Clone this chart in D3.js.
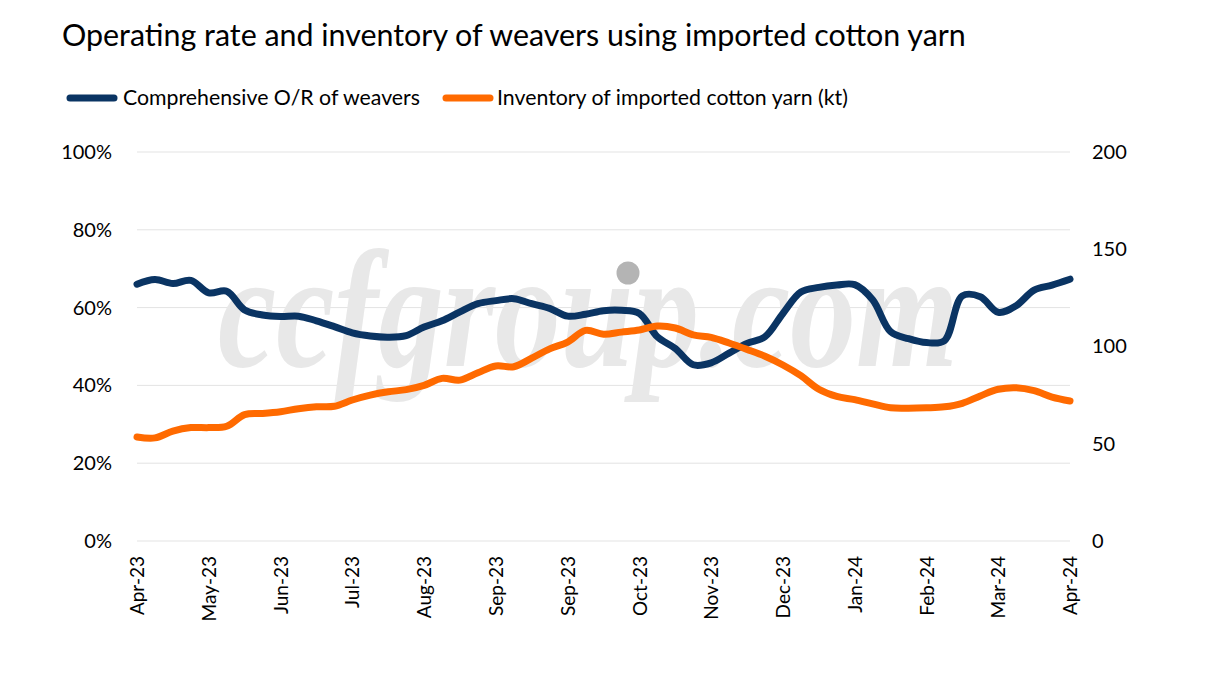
<!DOCTYPE html>
<html><head><meta charset="utf-8">
<script src="https://cdn.jsdelivr.net/npm/d3@7"></script>
<style>html,body{margin:0;padding:0;background:#fff;}svg{display:block;}</style>
</head><body>
<svg id="chart" width="1217" height="686"></svg>
<script>
const title = "Operating rate and inventory of weavers using imported cotton yarn";
const seriesNames = ["Comprehensive O/R of weavers", "Inventory of imported cotton yarn (kt)"];
// x tick labels, one every 4 weekly points
const tickLabels = ["Apr-23","May-23","Jun-23","Jul-23","Aug-23","Sep-23","Sep-23","Oct-23","Nov-23","Dec-23","Jan-24","Feb-24","Mar-24","Apr-24"];
// weekly operating rate (%)
const operatingRate = [66.0,67.2,66.2,67.0,63.8,64.2,59.4,58.1,57.7,57.8,56.6,55.1,53.5,52.7,
  52.4,52.8,55.0,56.6,58.9,61.0,61.8,62.3,61.0,59.8,57.8,58.3,59.2,59.3,
  58.5,52.5,49.5,45.3,45.8,48.3,50.8,52.5,58.5,64.0,65.2,65.8,
  65.9,62.0,53.8,52.0,51.0,51.5,63.0,62.8,58.8,60.5,64.5,65.8,67.3];
// weekly inventory (kt)
const inventory = [53.5,53.0,56.5,58.3,58.3,59.0,65.0,65.6,66.5,68.0,69.0,69.3,72.5,75.0,
  76.7,77.8,80.0,83.6,82.7,86.5,90.0,89.6,94.0,98.8,102.3,108.3,106.3,107.4,
  108.5,110.5,109.5,106.0,104.7,101.8,98.5,95.0,90.5,85.0,78.0,74.3,
  72.7,70.5,68.5,68.3,68.5,69.0,70.8,74.6,78.0,78.8,77.3,74.0,72.0];
const leftTicks = [0,20,40,60,80,100];
const rightTicks = [0,50,100,150,200];

const svg = d3.select("#chart");
const font = "Lato, 'Open Sans', sans-serif";
const x0 = 137, x1 = 1070, yTop = 152, yBot = 541;
const x = d3.scaleLinear().domain([0, operatingRate.length - 1]).range([x0, x1]);
const yL = d3.scaleLinear().domain([0, 100]).range([yBot, yTop]);
const yR = d3.scaleLinear().domain([0, 200]).range([yBot, yTop]);
const blue = "#0a3463", orange = "#ff6a00";

// gridlines
svg.append("g").selectAll("line").data(leftTicks).join("line")
  .attr("x1", x0).attr("x2", x1).attr("y1", d => yL(d)).attr("y2", d => yL(d))
  .attr("stroke", "#e3e3e3").attr("stroke-width", 1);

// watermark (horizontally condensed via transform)
const wmG = svg.append("g");
const wm = wmG.append("text").attr("x", 0).attr("y", 0)
  .attr("font-family", "'Liberation Serif', serif").attr("font-style", "italic").attr("font-weight", "bold")
  .attr("font-size", 168).attr("fill", "#e8e8e8")
  .text("ccfgroup.com");
const wmW = wm.node().getComputedTextLength();
wmG.attr("transform", `translate(218,366) scale(${740 / wmW},1)`);
svg.append("circle").attr("cx", 628).attr("cy", 273).attr("r", 11.5).attr("fill", "#b4b4b4");

// title
svg.append("text").attr("x", 62).attr("y", 46).attr("font-family", font)
  .attr("font-size", 30.4).attr("fill", "#000").text(title);

// legend
const leg = [{c: blue, x: 67, tx: 123}, {c: orange, x: 443, tx: 497}];
leg.forEach((l, i) => {
  svg.append("line").attr("x1", l.x + 3).attr("x2", l.x + 47).attr("y1", 98).attr("y2", 98)
    .attr("stroke", l.c).attr("stroke-width", 7).attr("stroke-linecap", "round");
  svg.append("text").attr("x", l.tx).attr("y", 105).attr("font-family", font)
    .attr("font-size", 21.3).attr("fill", "#000").text(seriesNames[i]);
});

// left axis
const gl = svg.append("g").attr("transform", `translate(${x0},0)`)
  .call(d3.axisLeft(yL).tickValues(leftTicks).tickFormat(d => d + "%").tickSize(0).tickPadding(25));
gl.select(".domain").remove();
gl.selectAll("text").attr("font-family", font).attr("font-size", 20).attr("fill", "#000");

// right axis
const gr = svg.append("g").attr("transform", `translate(${x1},0)`)
  .call(d3.axisRight(yR).tickValues(rightTicks).tickSize(0).tickPadding(22));
gr.select(".domain").remove();
gr.selectAll("text").attr("font-family", font).attr("font-size", 20).attr("fill", "#000");

// x axis
const tickIdx = tickLabels.map((_, i) => i * 4);
const gx = svg.append("g").attr("transform", `translate(0,${yBot})`)
  .call(d3.axisBottom(x).tickValues(tickIdx).tickFormat((d, i) => tickLabels[i]).tickSize(0));
gx.select(".domain").remove();
gx.selectAll("text").attr("font-family", font).attr("font-size", 19).attr("fill", "#000")
  .attr("transform", "rotate(-90)").attr("text-anchor", "end")
  .attr("x", -15).attr("y", 0).attr("dy", "0.35em");

// lines
const lineL = d3.line().x((d, i) => x(i)).y(d => yL(d)).curve(d3.curveCatmullRom.alpha(0.5));
const lineR = d3.line().x((d, i) => x(i)).y(d => yR(d)).curve(d3.curveCatmullRom.alpha(0.5));
svg.append("path").datum(operatingRate).attr("d", lineL).attr("fill", "none")
  .attr("stroke", blue).attr("stroke-width", 7).attr("stroke-linecap", "round").attr("stroke-linejoin", "round");
svg.append("path").datum(inventory).attr("d", lineR).attr("fill", "none")
  .attr("stroke", orange).attr("stroke-width", 7).attr("stroke-linecap", "round").attr("stroke-linejoin", "round");
</script>
</body></html>
